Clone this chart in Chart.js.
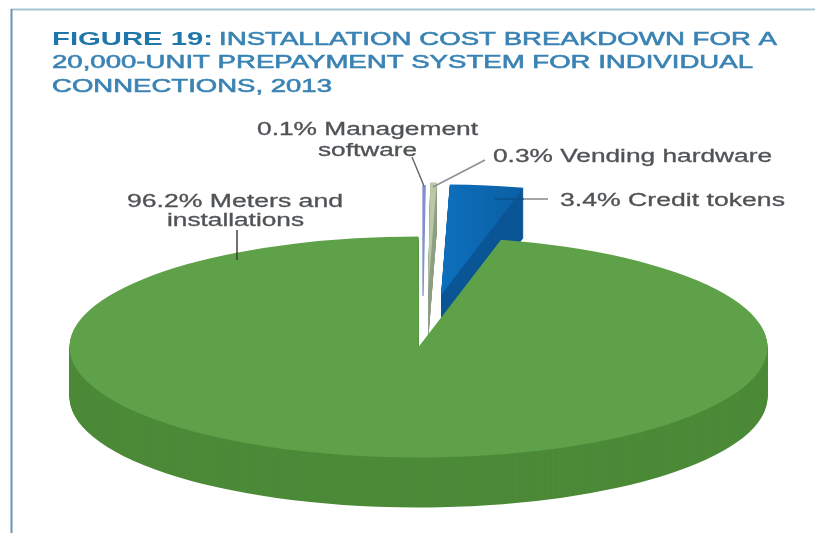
<!DOCTYPE html>
<html>
<head>
<meta charset="utf-8">
<style>
html,body{margin:0;padding:0;background:#fff}
canvas{display:block;filter:blur(0.6px)}
</style>
<script src="https://cdn.jsdelivr.net/npm/chart.js@4/dist/chart.umd.min.js"></script>
</head>
<body>
<canvas id="c" width="815" height="533"></canvas>
<script>
const categories = ["Management software", "Vending hardware", "Credit tokens", "Meters and installations"];
const shares = [0.1, 0.3, 3.4, 96.2];
const topColors = ["#7f92cf", "#b9c9a4", "#0b69b4", "#5ea148"];
const sideColors = ["#ffffff", "#8f9f86", "#0a5596", "#4c8a38"];

const titleHead = "FIGURE 19:";
const titleLines = ["INSTALLATION COST BREAKDOWN FOR A", "20,000-UNIT PREPAYMENT SYSTEM FOR INDIVIDUAL", "CONNECTIONS, 2013"];
const labelLines = ["0.1% Management", "software", "0.3% Vending hardware", "96.2% Meters and", "installations", "3.4% Credit tokens"];

const PIE = {cx: 418.5, cy: 347, rx: 349, ry: 110.5, depth: 50};
const EXPLODE = [{x: 4.5, y: -51}, {x: 9.5, y: -54}, {x: 22.5, y: -52}, {x: 0, y: 0}];

function stretched(ctx, str, x, y, w, font, color, stroke) {
  ctx.save();
  ctx.font = font;
  ctx.fillStyle = color;
  ctx.textBaseline = "alphabetic";
  ctx.textAlign = "left";
  const m = ctx.measureText(str).width;
  ctx.translate(x, y);
  ctx.scale(w / m, 1);
  ctx.fillText(str, 0, 0);
  if (stroke) { ctx.strokeStyle = color; ctx.lineWidth = stroke; ctx.strokeText(str, 0, 0); }
  ctx.restore();
}
function seg(ctx, x1, y1, x2, y2, color, w) {
  ctx.save();
  ctx.strokeStyle = color; ctx.lineWidth = w;
  ctx.beginPath(); ctx.moveTo(x1, y1); ctx.lineTo(x2, y2); ctx.stroke();
  ctx.restore();
}

const pie3d = {
  id: "pie3d",
  beforeDatasetsDraw(chart) {
    const ctx = chart.ctx;
    const arcs = chart.getDatasetMeta(0).data;
    ctx.save();
    ctx.fillStyle = "#ffffff";
    ctx.fillRect(0, 0, 815, 533);
    ctx.restore();
    seg(ctx, 11, 9.5, 815, 9.5, "#a8c3d6", 2);
    seg(ctx, 11.5, 9, 11.5, 533, "#6a95b5", 2);

    arcs.forEach((arc, i) => {
      const off = EXPLODE[i];
      const place = d => {
        ctx.translate(PIE.cx + off.x, PIE.cy + off.y + d);
        ctx.scale(PIE.rx / arc.outerRadius, PIE.ry / arc.outerRadius);
        ctx.translate(-arc.x, -arc.y);
      };
      const shade = Object.create(arc);
      shade.options = Object.assign({}, arc.options, {backgroundColor: sideColors[i], borderWidth: 0});
      for (let d = PIE.depth; d >= 1; d--) {
        ctx.save(); place(d); shade.draw(ctx); ctx.restore();
      }
      const face = Object.create(arc);
      let fill = topColors[i];
      if (i === 2) {
        const g = ctx.createLinearGradient(arc.x, 0, arc.x + arc.outerRadius * 0.24, 0);
        g.addColorStop(0, "#0d70bd");
        g.addColorStop(1, "#0a5ea3");
        fill = g;
      }
      face.options = Object.assign({}, arc.options, {
        backgroundColor: fill,
        borderWidth: i === 0 ? 1 : 0,
        borderColor: topColors[i]
      });
      ctx.save(); place(0); face.draw(ctx); ctx.restore();
    });

    // leader lines
    seg(ctx, 412, 157, 424, 186, "#5f6468", 1.4);
    seg(ctx, 485, 160, 433, 187, "#8c9094", 1.5);
    seg(ctx, 495, 199, 524, 199, "#0a5088", 1.5);
    seg(ctx, 524, 199, 548, 199, "#8c9094", 1.6);
    seg(ctx, 237, 230, 237, 260, "#2f3a2c", 1.4);

    // title
    const bold = "bold 17.5px 'Liberation Sans'", reg = "17.5px 'Liberation Sans'";
    stretched(ctx, titleHead, 52, 45, 161, bold, "#1f76a8");
    stretched(ctx, titleLines[0], 219, 45, 558, reg, "#3a83b4", 0.55);
    stretched(ctx, titleLines[1], 52, 68, 701, reg, "#3a83b4", 0.55);
    stretched(ctx, titleLines[2], 52, 92, 280, reg, "#3a83b4", 0.55);

    // labels
    const lf = "17.5px 'Liberation Sans'", lc = "#505356", ls = 0.3;
    stretched(ctx, labelLines[0], 257, 135, 221, lf, lc, ls);
    stretched(ctx, labelLines[1], 318, 156, 99, lf, lc, ls);
    stretched(ctx, labelLines[2], 493, 162, 279, lf, lc, ls);
    stretched(ctx, labelLines[3], 127, 206.5, 216, lf, lc, ls);
    stretched(ctx, labelLines[4], 167, 226, 137, lf, lc, ls);
    stretched(ctx, labelLines[5], 560, 205.5, 225, lf, lc, ls);
    return false;
  }
};

new Chart(document.getElementById("c").getContext("2d"), {
  type: "pie",
  data: {
    labels: categories,
    datasets: [{data: shares, backgroundColor: topColors, borderWidth: 0}]
  },
  options: {
    responsive: false,
    animation: false,
    rotation: 0,
    plugins: {legend: {display: false}, tooltip: {enabled: false}}
  },
  plugins: [pie3d]
});
</script>
</body>
</html>
